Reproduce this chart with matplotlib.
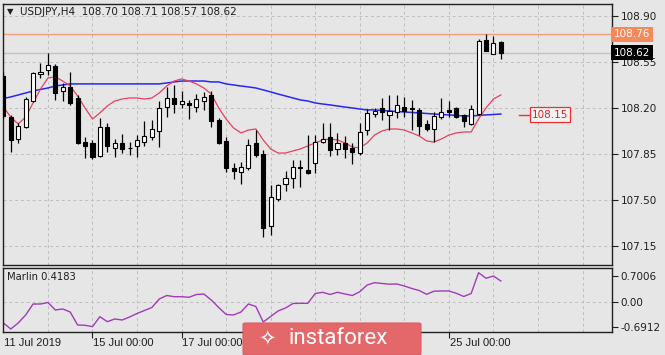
import numpy as np
import matplotlib.pyplot as plt
from matplotlib.patches import FancyBboxPatch
from matplotlib.transforms import blended_transform_factory

# USDJPY H4 candles, 11 Jul 2019 00:00 .. 26 Jul 2019 04:00
opens = [108.443, 108.131, 107.964, 108.055, 108.253, 108.459, 108.489, 108.519, 108.329, 108.360,
         108.276, 107.941, 107.934, 107.835, 108.055, 107.895, 107.934, 107.895, 107.911, 107.941,
         107.979, 108.025, 108.207, 108.276, 108.230, 108.238, 108.207, 108.253, 108.299, 108.109,
         107.949, 107.743, 107.713, 107.743, 107.934, 107.850, 107.302, 107.507, 107.621, 107.667,
         107.751, 107.728, 107.781, 107.941, 107.979, 107.888, 107.934, 107.895, 107.857, 108.032,
         108.154, 108.200, 108.147, 108.169, 108.207, 108.200, 108.185, 108.078, 108.040, 108.131,
         108.185, 108.200, 108.147, 108.078, 108.154, 108.717, 108.611, 108.700]
highs = [108.474, 108.147, 108.086, 108.284, 108.474, 108.542, 108.619, 108.535, 108.390, 108.474,
         108.299, 107.979, 107.956, 108.124, 108.086, 107.964, 108.002, 107.941, 107.994, 108.101,
         108.109, 108.253, 108.360, 108.375, 108.329, 108.261, 108.306, 108.322, 108.329, 108.124,
         107.979, 107.781, 107.789, 107.964, 108.032, 107.880, 107.614, 107.621, 107.720, 107.804,
         107.804, 107.994, 107.994, 108.086, 108.086, 108.010, 107.987, 107.934, 108.086, 108.192,
         108.200, 108.276, 108.299, 108.299, 108.284, 108.261, 108.200, 108.109, 108.169, 108.276,
         108.253, 108.207, 108.154, 108.223, 108.725, 108.763, 108.748, 108.710]
lows = [108.124, 107.865, 107.934, 108.048, 108.246, 108.428, 108.451, 108.261, 108.253, 108.223,
        107.926, 107.819, 107.812, 107.827, 107.865, 107.827, 107.857, 107.842, 107.827, 107.911,
        107.956, 107.903, 108.131, 108.162, 108.200, 108.116, 108.169, 108.185, 108.055, 107.926,
        107.713, 107.660, 107.621, 107.728, 107.827, 107.218, 107.233, 107.492, 107.568, 107.591,
        107.599, 107.698, 107.705, 107.934, 107.835, 107.842, 107.819, 107.774, 107.842, 107.994,
        108.131, 108.109, 108.032, 108.124, 108.131, 108.032, 107.994, 108.025, 107.941, 108.116,
        108.131, 108.124, 108.055, 108.070, 108.147, 108.634, 108.611, 108.570]
closes = [108.139, 107.956, 108.063, 108.268, 108.466, 108.474, 108.527, 108.314, 108.360, 108.238,
          107.934, 107.911, 107.827, 108.055, 107.911, 107.934, 107.888, 107.892, 107.956, 107.987,
          108.040, 108.200, 108.276, 108.230, 108.253, 108.223, 108.268, 108.284, 108.101, 107.934,
          107.743, 107.720, 107.751, 107.918, 107.842, 107.287, 107.523, 107.614, 107.667, 107.751,
          107.743, 107.705, 107.941, 107.964, 107.880, 107.934, 107.888, 107.865, 108.017, 108.162,
          108.177, 108.169, 108.177, 108.223, 108.177, 108.192, 108.063, 108.040, 108.139, 108.169,
          108.173, 108.131, 108.101, 108.192, 108.710, 108.634, 108.695, 108.620]

# moving averages
blue_ma = [108.272, 108.284, 108.299, 108.314, 108.329, 108.341, 108.352, 108.367, 108.375, 108.383,
           108.383, 108.383, 108.383, 108.383, 108.383, 108.383, 108.383, 108.383, 108.383, 108.383,
           108.383, 108.383, 108.390, 108.398, 108.405, 108.405, 108.405, 108.405, 108.398, 108.398,
           108.383, 108.375, 108.367, 108.360, 108.352, 108.337, 108.322, 108.306, 108.291, 108.276,
           108.261, 108.253, 108.238, 108.230, 108.223, 108.215, 108.207, 108.200, 108.192, 108.185,
           108.185, 108.181, 108.177, 108.173, 108.169, 108.166, 108.162, 108.158, 108.154, 108.150,
           108.147, 108.143, 108.139, 108.139, 108.143, 108.147, 108.150, 108.154]
red_ma = [108.207, 108.131, 108.078, 108.131, 108.238, 108.344, 108.428, 108.436, 108.405, 108.367,
          108.291, 108.200, 108.116, 108.162, 108.215, 108.253, 108.268, 108.276, 108.276, 108.268,
          108.276, 108.314, 108.367, 108.405, 108.421, 108.405, 108.383, 108.352, 108.306, 108.200,
          108.116, 108.048, 108.010, 108.032, 108.040, 107.956, 107.888, 107.857, 107.857, 107.873,
          107.888, 107.911, 107.934, 107.956, 107.964, 107.956, 107.934, 107.903, 107.895, 107.934,
          107.994, 108.025, 108.040, 108.040, 108.032, 108.010, 107.987, 107.949, 107.941, 107.964,
          107.994, 108.010, 108.017, 108.017, 108.116, 108.200, 108.268, 108.299]

# Marlin oscillator
marlin = [-0.580, -0.744, -0.580, -0.362, -0.063, -0.063, -0.022, -0.226, -0.199, -0.281,
          -0.635, -0.643, -0.681, -0.409, -0.545, -0.471, -0.499, -0.417, -0.322, -0.240,
          -0.158, 0.074, 0.169, 0.136, 0.136, 0.120, 0.196, 0.210, 0.046, -0.158,
          -0.349, -0.362, -0.281, -0.063, -0.131, -0.553, -0.403, -0.253, -0.172, -0.049,
          -0.044, -0.044, 0.223, 0.256, 0.196, 0.256, 0.210, 0.169, 0.272, 0.455,
          0.518, 0.496, 0.477, 0.482, 0.428, 0.360, 0.305, 0.202, 0.286, 0.292,
          0.292, 0.229, 0.142, 0.223, 0.790, 0.638, 0.700, 0.564]

price_ticks = [107.15, 107.50, 107.85, 108.20, 108.55, 108.90]
marlin_ticks = [0.7006, 0.0, -0.6912]
marlin_tick_labels = ['0.7006', '0.00', '-0.6912']
date_idx = [0, 12, 24, 60]
date_labels = ['11 Jul 2019', '15 Jul 00:00', '17 Jul 00:00', '25 Jul 00:00']
high_line = 108.76
ma_label = 108.15

BG = '#E6E6E6'
GRID = '#BEBEBE'
TXT = '#1E1E1E'
W, H = 665, 355


def box(x0, y0, x1, y1):
    """pixel box (top-left origin) -> figure fraction rect"""
    return [x0 / W, 1 - y1 / H, (x1 - x0) / W, (y1 - y0) / H]


fig = plt.figure(figsize=(W / 100, H / 100), dpi=100)
fig.patch.set_facecolor(BG)
ax = fig.add_axes(box(3, 4, 612, 265))
axm = fig.add_axes(box(3, 268, 612, 332))

n = len(closes)
x = np.arange(n)
o, h, l, c = map(np.array, (opens, highs, lows, closes))

for a in (ax, axm):
    a.set_facecolor(BG)
    a.set_xlim(-0.05, 81.97)
    for s in a.spines.values():
        s.set_color('#202020')
        s.set_linewidth(1.0)
    a.yaxis.tick_right()
    a.tick_params(axis='y', direction='out', length=4, width=0.8, pad=2,
                  labelsize=7.5, colors=TXT)
    for gx in range(6, 82, 6):
        a.axvline(gx, color=GRID, lw=0.7, ls=(0, (3, 3)), zorder=0)

# main pane
ax.set_ylim(107.005, 108.991)
ax.set_yticks(price_ticks)
ax.set_yticklabels([f'{t:.2f}' for t in price_ticks])
ax.set_xticks([])
for t in price_ticks:
    ax.axhline(t, color=GRID, lw=0.7, ls=(0, (3, 3)), zorder=0)

ax.axhline(high_line, color='#F4A07A', lw=1.0, zorder=1)
ax.axhline(closes[-1], color='#C2C2C2', lw=1.0, zorder=1)

ax.plot(x, blue_ma, color='#2828F0', lw=1.1, zorder=2)
ax.plot(x, red_ma, color='#E8405E', lw=0.9, zorder=2)

ax.vlines(x, l, h, color='black', lw=0.9, zorder=3)
up = c >= o
body_lo = np.minimum(o, c)
body_h = np.maximum(np.abs(c - o), 0.004)
ax.bar(x, body_h, bottom=body_lo, width=0.55, color=np.where(up, 'white', 'black'),
       edgecolor='black', linewidth=0.8, zorder=4)

# title
fig.text(7 / W, 1 - 12 / H, '\u25bc', fontsize=6, color=TXT, va='center')
fig.text(20 / W, 1 - 12 / H, f'USDJPY,H4  {opens[-1]:.2f} {highs[-1]:.2f} {lows[-1]:.2f} {closes[-1]:.2f}',
         fontsize=7.5, color=TXT, va='center')

# right-side price boxes
tr = blended_transform_factory(ax.transAxes, ax.transData)
ax.text(1.003, high_line, f'{high_line:.2f}', transform=tr, fontsize=7.5, color='white',
        va='center', ha='left', clip_on=False, zorder=6,
        bbox=dict(boxstyle='square,pad=0.25', fc='#F5895A', ec='none'))
ax.text(1.003, closes[-1], f'{closes[-1]:.2f}', transform=tr, fontsize=7.5, color='white',
        va='center', ha='left', clip_on=False, zorder=6,
        bbox=dict(boxstyle='square,pad=0.25', fc='black', ec='none'))

# MA value label inside chart
ax.plot([n + 1.5, n + 3], [ma_label, ma_label], color='#F03030', lw=1.0, zorder=5)
ax.text(n + 3.2, ma_label, f'{ma_label:.2f}', fontsize=7.5, color='#E02020', va='center',
        ha='left', zorder=6, bbox=dict(boxstyle='square,pad=0.2', fc='#F2F2F2', ec='#F03030', lw=0.9))

# Marlin pane
axm.set_ylim(-0.826, 0.918)
axm.set_yticks(marlin_ticks)
axm.set_yticklabels(marlin_tick_labels)
axm.axhline(0, color=GRID, lw=0.7, ls=(0, (3, 3)), zorder=0)
axm.plot(x, marlin, color='#A23BB8', lw=1.0, zorder=2)
axm.text(0.007, 0.86, 'Marlin 0.4183', transform=axm.transAxes, fontsize=7.2, color=TXT,
         va='center', ha='left')
axm.set_xticks(date_idx[1:])
axm.set_xticklabels([])
axm.tick_params(axis='x', direction='out', length=4, width=0.8, colors=TXT)
trm = blended_transform_factory(axm.transData, axm.transAxes)
for i, lab in zip(date_idx, date_labels):
    axm.text(i + 0.1, -0.17, lab, transform=trm, fontsize=8, color=TXT,
             family='Liberation Sans', va='center', ha='left', clip_on=False)

# watermark badge
badge = FancyBboxPatch((243 / W, 0), 178 / W, 32 / H, boxstyle='round,pad=0,rounding_size=0.004',
                       transform=fig.transFigure, fc='#E4676A', ec='#D85E62', lw=0.8, zorder=10)
fig.add_artist(badge)
fig.text(258 / W, 1 - 339 / H, '\u2727', fontsize=15, color='white', va='center', ha='left', zorder=11)
fig.text(289 / W, 1 - 339 / H, 'instaforex', fontsize=16, color='white', va='center', ha='left',
         family='Roboto', zorder=11)

fig.savefig('out.png', dpi=100, facecolor=BG)
